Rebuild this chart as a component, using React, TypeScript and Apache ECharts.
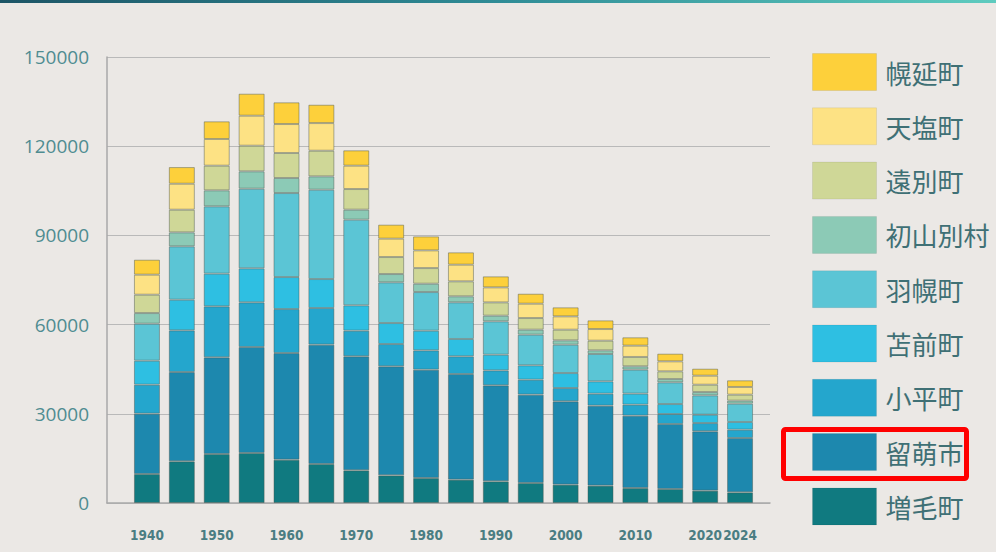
import React, { useEffect, useRef } from "react";
import * as echarts from "echarts";

const years = ["1940", "1945", "1950", "1955", "1960", "1965", "1970", "1975", "1980", "1985", "1990", "1995", "2000", "2005", "2010", "2015", "2020", "2024"];

const mashike = [9750, 14010, 16480, 16820, 14570, 13120, 10990, 9300, 8410, 7850, 7290, 6730, 6170, 5830, 5050, 4710, 4150, 3590];
const rumoi = [20290, 30040, 32510, 35650, 35870, 40130, 38340, 36660, 36430, 35540, 32280, 29710, 28020, 26900, 24330, 21860, 19950, 18270];
const obira = [9750, 14010, 17150, 15020, 14800, 12330, 8630, 7510, 6500, 5940, 5040, 5040, 4480, 4040, 3700, 3360, 2800, 2800];
const tomamae = [8070, 10310, 10990, 11430, 10760, 9750, 8520, 7060, 6610, 5830, 5270, 4820, 5040, 4150, 3700, 3360, 2800, 2580];
const haboro = [12440, 17940, 22640, 26790, 28250, 30040, 28810, 13680, 13000, 12330, 11210, 10310, 9530, 9190, 8070, 7290, 6500, 6170];
const shosanbetsu = [3590, 4710, 5380, 5830, 5050, 4480, 3360, 2800, 2800, 2020, 1910, 1680, 1460, 1230, 1120, 1120, 1120, 1010];
const enbetsu = [6170, 7620, 8300, 8630, 8410, 8630, 6950, 5720, 5270, 5040, 4480, 3920, 3590, 3250, 3140, 2580, 2470, 2020];
const teshio = [6730, 8740, 8970, 10090, 9750, 9300, 7850, 6170, 5940, 5600, 5040, 4820, 4480, 3920, 3810, 3360, 3030, 2580];
const horonobe = [5040, 5600, 5940, 7400, 7290, 6170, 5160, 4710, 4710, 4150, 3700, 3360, 3030, 2910, 2800, 2580, 2350, 2240];

const seriesDefs = [
  { name: "増毛町", data: mashike, color: "#107a80" },
  { name: "留萌市", data: rumoi, color: "#1d88ae" },
  { name: "小平町", data: obira, color: "#24a6cd" },
  { name: "苫前町", data: tomamae, color: "#2ebfe2" },
  { name: "羽幌町", data: haboro, color: "#5bc5d5" },
  { name: "初山別村", data: shosanbetsu, color: "#8ccab6" },
  { name: "遠別町", data: enbetsu, color: "#cfd797" },
  { name: "天塩町", data: teshio, color: "#fde284" },
  { name: "幌延町", data: horonobe, color: "#fdd03b" },
];

const yTicks = [0, 30000, 60000, 90000, 120000, 150000];

export default function App() {
  const ref = useRef<HTMLDivElement>(null);
  useEffect(() => {
    if (!ref.current) return;
    const chart = echarts.init(ref.current, undefined, { renderer: "svg" });
    const legendOrder = seriesDefs.map((s) => s.name).slice().reverse();
    chart.setOption({
      animation: false,
      backgroundColor: "#ebe8e5",
      grid: [
        { left: 107, top: 57, width: 663, height: 446 },
        { left: 129.5, top: 57, width: 628, height: 446 },
      ],
      xAxis: [
        {
          type: "value",
          gridIndex: 0,
          min: 0,
          max: 1,
          axisLine: { show: true, onZero: false, lineStyle: { color: "#a9a9a9", width: 1.5 } },
          axisTick: { show: false },
          axisLabel: { show: false },
          splitLine: { show: false },
        },
        {
          type: "category",
          gridIndex: 1,
          data: years,
          axisLine: { show: false },
          axisTick: { show: false },
          axisLabel: {
            interval: (i: number) => i % 2 === 0 || i === years.length - 1,
            hideOverlap: false,
            margin: 25,
            fontSize: 13.5,
            fontWeight: "bold",
            color: "#4a7d82",
            fontFamily: "'DejaVu Sans Condensed', 'DejaVu Sans', sans-serif",
          },
        },
      ],
      yAxis: [
        {
          type: "value",
          gridIndex: 0,
          min: yTicks[0],
          max: yTicks[yTicks.length - 1],
          interval: 30000,
          axisLine: { show: true, lineStyle: { color: "#a9a9a9", width: 1.5 } },
          axisTick: { show: false },
          splitLine: { show: true, lineStyle: { color: "#b9b9b9", width: 1.2 } },
          axisLabel: {
            margin: 18,
            fontSize: 19,
            color: "#4f8c91",
            fontFamily: "'Open Sans', sans-serif",
            formatter: (v: number) => String(v),
          },
        },
        {
          type: "value",
          gridIndex: 1,
          min: 0,
          max: 150000,
          show: false,
          splitLine: { show: false },
        },
      ],
      legend: {
        orient: "vertical",
        left: 812,
        top: 53,
        padding: 0,
        itemWidth: 64,
        itemHeight: 37,
        itemGap: 16.3,
        icon: "rect",
        data: legendOrder,
        itemStyle: { borderWidth: 1, borderColor: "rgba(0,0,0,0.07)" },
        textStyle: {
          fontSize: 26,
          color: "#3f7075",
          fontFamily: "'Noto Sans CJK JP', sans-serif",
          padding: [0, 0, 0, 4],
        },
      },
      series: seriesDefs.map((s) => ({
        name: s.name,
        type: "bar",
        stack: "total",
        xAxisIndex: 1,
        yAxisIndex: 1,
        barWidth: 26,
        data: s.data,
        itemStyle: {
          color: s.color,
          borderColor: "rgba(70,85,75,0.45)",
          borderWidth: 1,
        },
      })),
      graphic: [
        {
          type: "rect",
          left: 0,
          top: 0,
          shape: { width: 996, height: 3 },
          style: {
            fill: new echarts.graphic.LinearGradient(0, 0, 1, 0, [
              { offset: 0, color: "#1d5566" },
              { offset: 0.5, color: "#2f8c96" },
              { offset: 1, color: "#5ecbbf" },
            ]),
          },
        },
        {
          type: "rect",
          shape: { x: 783.5, y: 429.5, width: 183, height: 49, r: 2 },
          style: { fill: "none", stroke: "#ff0000", lineWidth: 5 },
        },
      ],
    });
    return () => chart.dispose();
  }, []);
  return (
    <div
      ref={ref}
      style={{ position: "fixed", left: 0, top: 0, width: 996, height: 552 }}
    />
  );
}
